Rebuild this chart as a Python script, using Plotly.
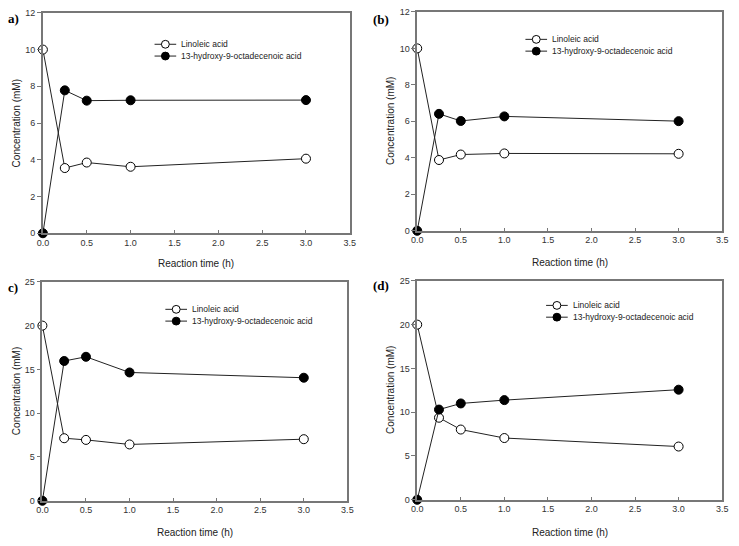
import plotly.graph_objects as go

time_h = [0.0, 0.25, 0.5, 1.0, 3.0]

lin_a = [10.0, 3.55, 3.85, 3.62, 4.06]
hod_a = [0.0, 7.78, 7.22, 7.24, 7.25]
lin_b = [10.0, 3.88, 4.18, 4.24, 4.22]
hod_b = [0.0, 6.41, 6.02, 6.27, 6.01]
lin_c = [20.0, 7.14, 6.95, 6.43, 7.03]
hod_c = [0.0, 15.96, 16.44, 14.65, 14.05]
lin_d = [20.0, 9.37, 8.02, 7.05, 6.08]
hod_d = [0.0, 10.3, 11.0, 11.38, 12.57]

panel_labels = ["a)", "(b)", "c)", "(d)"]
y_max = [12, 12, 25, 25]
y_dtick = [2, 2, 5, 5]
series_names = ["Linoleic acid", "13-hydroxy-9-octadecenoic acid"]
series_fill = ["white", "black"]
x_title = "Reaction time (h)"
y_title = "Concentration (mM)"

W, H = 739, 546
# plot-area pixel boxes (left, right, top, bottom)
boxes = [(37.5, 349.5, 8, 232.5), (418, 728, 7, 230), (37, 347, 282, 505), (418, 728, 281, 504)]
# legend: start x of sample line, y of first row (pixels)
legend_px = [(151, 40), (528, 35), (162, 310), (549, 306)]
legend_row_gap = 12
label_px = [(0, 14), (371, 15), (0, 288), (371, 286)]
xtitle_py = [263, 262, 537, 537]

data = [(lin_a, hod_a), (lin_b, hod_b), (lin_c, hod_c), (lin_d, hod_d)]

fig = go.Figure()
axis_col = "#777777"
line_col = "#222222"
font_fam = "Liberation Sans, Arial, sans-serif"


def px(xp):
    return xp / W


def py(yp):
    return 1 - yp / H


for i, (lin, hod) in enumerate(data):
    sfx = "" if i == 0 else str(i + 1)
    for name, vals, fill in zip(series_names, (lin, hod), series_fill):
        fig.add_trace(go.Scatter(
            x=time_h, y=vals, mode="lines+markers", name=name,
            xaxis="x" + sfx, yaxis="y" + sfx,
            line=dict(color=line_col, width=1),
            marker=dict(symbol="circle", size=9, color=fill, line=dict(color="black", width=1)),
            cliponaxis=False, showlegend=False,
        ))
    l, r, t, b = boxes[i]
    common = dict(showline=True, linecolor=axis_col, linewidth=1.5, mirror=True,
                  showgrid=False, zeroline=False,
                  tickfont=dict(family=font_fam, size=9, color="#333333"),
                  ticklen=4, tickwidth=1, tickcolor=axis_col)
    fig.update_layout(**{
        "xaxis" + sfx: dict(common, domain=[l / W, r / W], anchor="y" + sfx,
                           range=[0, 3.5], dtick=0.5, tickformat=".1f", ticks="inside", ticklen=3),
        "yaxis" + sfx: dict(common, domain=[1 - b / H, 1 - t / H], anchor="x" + sfx,
                           range=[0, y_max[i]], dtick=y_dtick[i], ticks="outside"),
    })
    fig.add_annotation(text=y_title, xref="paper", yref="paper",
                       x=px(l - 27), y=py((t + b) / 2), textangle=-90,
                       xanchor="center", yanchor="middle",
                       showarrow=False, font=dict(family=font_fam, size=10, color="#222222"))
    fig.add_annotation(text=x_title, xref="paper", yref="paper",
                       x=px((l + r) / 2), y=py(xtitle_py[i]), xanchor="center", yanchor="middle",
                       showarrow=False, font=dict(family=font_fam, size=10, color="#222222"))
    fig.add_annotation(text="<b>" + panel_labels[i] + "</b>", xref="paper", yref="paper",
                       x=px(label_px[i][0]), y=py(label_px[i][1]), xanchor="left", yanchor="middle",
                       showarrow=False,
                       font=dict(family="Liberation Serif, Times New Roman, serif", size=13, color="black"))
    # manual legend (compact, like the original)
    sx, sy = legend_px[i]
    for k, (name, fill) in enumerate(zip(series_names, series_fill)):
        ry = sy + k * legend_row_gap
        fig.add_shape(type="line", xref="paper", yref="paper",
                      x0=px(sx), x1=px(sx + 22), y0=py(ry), y1=py(ry),
                      line=dict(color=line_col, width=1))
        rad = 4
        fig.add_shape(type="circle", xref="paper", yref="paper",
                      x0=px(sx + 11 - rad), x1=px(sx + 11 + rad),
                      y0=py(ry + rad), y1=py(ry - rad),
                      fillcolor=fill, line=dict(color="black", width=1))
        fig.add_annotation(text=name, xref="paper", yref="paper",
                           x=px(sx + 25), y=py(ry), xanchor="left", yanchor="middle",
                           showarrow=False, font=dict(family=font_fam, size=8.5, color="#222222"))

fig.update_layout(width=W, height=H, margin=dict(l=0, r=0, t=0, b=0),
                  paper_bgcolor="white", plot_bgcolor="white")
fig.write_html("out.html")
